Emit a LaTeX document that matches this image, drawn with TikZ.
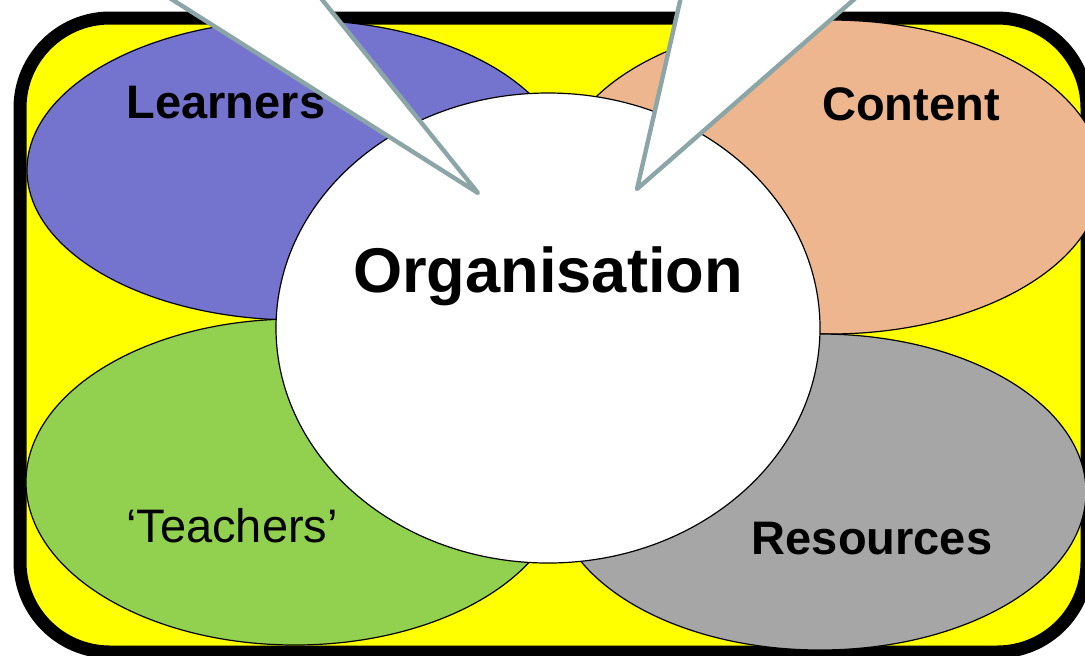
\documentclass[tikz,border=0pt]{standalone}
\usepackage{fontspec}
\setmainfont{Liberation Sans}
\definecolor{lavender}{RGB}{116, 116, 207}
\definecolor{peach}{RGB}{237, 182, 142}
\definecolor{leaf}{RGB}{146, 208, 80}
\definecolor{stone}{RGB}{166, 166, 166}
\definecolor{canary}{RGB}{255, 255, 0}
\definecolor{slate}{RGB}{140, 166, 168}
\tikzset{
  blob/.style={draw=black, line width=0.6pt},
  tag/.style={anchor=base, inner sep=0pt, font=\fontsize{23.5}{28}\selectfont\bfseries},
  bubble/.style={draw=slate, fill=white, line width=2.2pt, line join=round}
}

\begin{document}
\begin{tikzpicture}[x=0.5pt, y=-0.5pt]
            \useasboundingbox (0,0) rectangle (1085,655);
            \clip (0,0) rectangle (1085,655);
            % frame
            \filldraw[black, fill=canary, line width=6.5pt, rounded corners=45pt] (20,18) rectangle (1087,652);
            % the four parts
            \filldraw[blob, fill=lavender] (297,170) ellipse (270 and 150);
            \filldraw[blob, fill=peach]    (830,177) ellipse (272 and 157);
            \filldraw[blob, fill=leaf]     (295,482) ellipse (269 and 163);
            \filldraw[blob, fill=stone]    (820,492) ellipse (266 and 158);
            \filldraw[blob, fill=white]    (548,328) ellipse (272 and 235);
            % labels
            \node[tag] (learners)  at (226,118) {Learners};
            \node[tag] (content)   at (911,120) {Content};
            \node[tag, font=\fontsize{23.5}{28}\selectfont] (teachers) at (232,542) {`Teachers'};
            \node[tag] (resources) at (872,554) {Resources};
            \node[tag, font=\fontsize{31.6}{38}\selectfont\bfseries] (organisation) at (548,292) {Organisation};
            % speech bubble tails
            \filldraw[bubble] (78,-60) -- (478,193) -- (274,-60) -- cycle;
            \filldraw[bubble] (694,-60) -- (637,189) -- (922,-60) -- cycle;
\end{tikzpicture}
\end{document}
